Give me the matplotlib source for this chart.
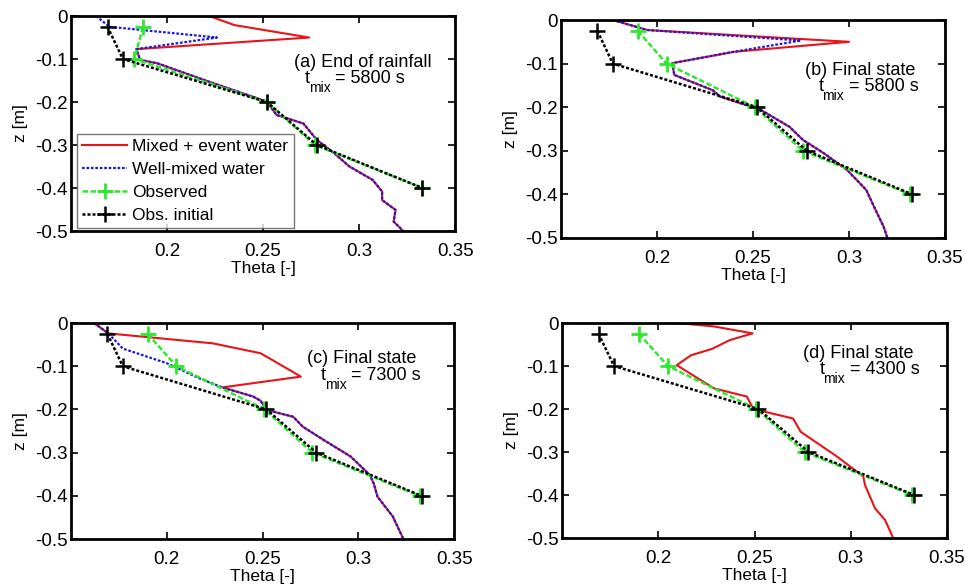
import numpy as np
import matplotlib
matplotlib.use('Agg')
import matplotlib.pyplot as plt

plt.rcParams['font.family'] = ['Liberation Sans', 'DejaVu Sans']
plt.rcParams['axes.unicode_minus'] = False

# Observed profiles (depths of the probes)
z_obs = [-0.025, -0.1, -0.2, -0.3, -0.4]
theta_obs_init = [0.169, 0.177, 0.252, 0.278, 0.333]
theta_obs_rain = [0.1875, 0.183, 0.252, 0.277, 0.333]
theta_obs_final = [0.190, 0.205, 0.251, 0.276, 0.332]

# (a) End of rainfall
z_red_a = [0, -0.021, -0.05, -0.077, -0.102, -0.110, -0.153, -0.199, -0.230, -0.250,
           -0.288, -0.319, -0.350, -0.381, -0.408, -0.428, -0.451, -0.478, -0.5]
th_red_a = [0.222, 0.235, 0.274, 0.184, 0.186, 0.195, 0.222, 0.252, 0.257, 0.271,
            0.278, 0.287, 0.295, 0.307, 0.312, 0.312, 0.319, 0.318, 0.323]
z_blue_a = [0, -0.025, -0.05, -0.077, -0.102, -0.110, -0.153, -0.199, -0.230, -0.250,
            -0.288, -0.319, -0.350, -0.381, -0.408, -0.428, -0.451, -0.478, -0.5]
th_blue_a = [0.163, 0.170, 0.226, 0.184, 0.186, 0.195, 0.222, 0.252, 0.257, 0.271,
             0.278, 0.287, 0.295, 0.307, 0.312, 0.312, 0.319, 0.318, 0.323]

# (b) Final state, t_mix = 5800 s
z_red_b = [0, -0.023, -0.05, -0.073, -0.099, -0.126, -0.161, -0.176, -0.206, -0.245,
           -0.275, -0.306, -0.344, -0.390, -0.428, -0.474, -0.5]
th_red_b = [0.177, 0.195, 0.300, 0.240, 0.208, 0.209, 0.229, 0.233, 0.254, 0.269,
            0.276, 0.287, 0.299, 0.309, 0.313, 0.318, 0.320]
z_blue_b = [0, -0.023, -0.047, -0.073, -0.099, -0.126, -0.161, -0.176, -0.206, -0.245,
            -0.275, -0.306, -0.344, -0.390, -0.428, -0.474, -0.5]
th_blue_b = [0.177, 0.195, 0.275, 0.240, 0.208, 0.209, 0.229, 0.233, 0.254, 0.269,
             0.276, 0.287, 0.299, 0.309, 0.313, 0.318, 0.320]

# (c) Final state, t_mix = 7300 s
z_red_c = [0, -0.024, -0.047, -0.070, -0.124, -0.149, -0.170, -0.180, -0.201, -0.217,
           -0.240, -0.271, -0.309, -0.352, -0.371, -0.402, -0.448, -0.5]
th_red_c = [0.162, 0.1695, 0.224, 0.249, 0.270, 0.229, 0.245, 0.249, 0.252, 0.266,
            0.271, 0.282, 0.296, 0.306, 0.308, 0.310, 0.318, 0.3235]
z_blue_c = [0, -0.024, -0.059, -0.093, -0.128, -0.149, -0.170, -0.180, -0.201, -0.217,
            -0.240, -0.271, -0.309, -0.352, -0.371, -0.402, -0.448, -0.5]
th_blue_c = [0.162, 0.1695, 0.177, 0.200, 0.217, 0.229, 0.245, 0.249, 0.252, 0.266,
             0.271, 0.282, 0.296, 0.306, 0.308, 0.310, 0.318, 0.3235]

# (d) Final state, t_mix = 4300 s
z_red_d = [0, -0.008, -0.024, -0.040, -0.060, -0.075, -0.098, -0.152, -0.171, -0.200,
           -0.222, -0.253, -0.311, -0.357, -0.377, -0.431, -0.458, -0.5]
th_red_d = [0.210, 0.229, 0.249, 0.237, 0.228, 0.217, 0.2096, 0.229, 0.246, 0.2494,
            0.270, 0.274, 0.293, 0.3065, 0.3074, 0.3126, 0.3178, 0.322]

line1 = ['(a) End of rainfall', '(b) Final state', '(c) Final state', '(d) Final state']
tmix = [5800, 5800, 7300, 4300]

positions = [[0.0736, 0.6051, 0.398, 0.3675],
             [0.5813, 0.5932, 0.398, 0.3726],
             [0.0736, 0.0786, 0.397, 0.3692],
             [0.5824, 0.0803, 0.399, 0.3675]]
text_pos = [(0.940, 0.764, 0.870, 0.690),
            (0.922, 0.748, 0.932, 0.676),
            (0.901, 0.813, 0.913, 0.736),
            (0.912, 0.836, 0.928, 0.763)]

reds = [(th_red_a, z_red_a), (th_red_b, z_red_b), (th_red_c, z_red_c), (th_red_d, z_red_d)]
blues = [(th_blue_a, z_blue_a), (th_blue_b, z_blue_b), (th_blue_c, z_blue_c), None]
obs = [theta_obs_rain, theta_obs_final, theta_obs_final, theta_obs_final]

fs = 12.5
fs_tick = 13.5
fs_note = 13
fig = plt.figure(figsize=(9.65, 5.85), dpi=100)

for i in range(4):
    ax = fig.add_axes(positions[i])
    ax.plot(reds[i][0], reds[i][1], color='#e8141a', lw=1.5, label='Mixed + event water')
    if blues[i] is not None:
        ax.plot(blues[i][0], blues[i][1], color='#1a1adc', lw=1.6, ls=(0, (1.2, 0.8)),
                label='Well-mixed water')
    ax.plot(obs[i], z_obs, color='#2ee82e', lw=1.8, ls=(0, (2.2, 1.0)), marker='+',
            ms=11, mew=2, label='Observed')
    ax.plot(theta_obs_init, z_obs, color='black', lw=1.8, ls=(0, (1.2, 0.8)), marker='+',
            ms=11, mew=1.8, label='Obs. initial')

    ax.set_xlim(0.15, 0.35)
    ax.set_ylim(-0.5, 0)
    ax.set_xticks([0.2, 0.25, 0.3, 0.35])
    ax.set_xticklabels(['0.2', '0.25', '0.3', '0.35'])
    ax.set_yticks([0, -0.1, -0.2, -0.3, -0.4, -0.5])
    ax.set_yticklabels(['0', '-0.1', '-0.2', '-0.3', '-0.4', '-0.5'])
    ax.tick_params(direction='in', top=True, right=True, length=5, width=1.2,
                   labelsize=fs_tick)
    ax.tick_params(axis='x', pad=8.5)
    ax.tick_params(axis='y', pad=2.5)
    for sp in ax.spines.values():
        sp.set_linewidth(2)
    ax.set_xlabel('Theta [-]', fontsize=fs, labelpad=1)
    ax.set_ylabel('z [m]', fontsize=fs, labelpad=5)

    # panel note, t with a lowered "mix" subscript
    x1, y1, x2, y2 = text_pos[i]
    ax.text(x1, y1, line1[i], transform=ax.transAxes, ha='right', va='baseline',
            fontsize=fs_note)
    main = ax.text(x2, y2, '= %d s' % tmix[i], transform=ax.transAxes, ha='right',
                   va='baseline', fontsize=fs_note)
    sub = ax.annotate('mix', xy=(0, 0), xycoords=main, xytext=(-3.5, -6),
                      textcoords='offset points', ha='right', va='bottom', fontsize=10)
    ax.annotate('t', xy=(0, 0), xycoords=sub, xytext=(1, 6),
                textcoords='offset points', ha='right', va='bottom', fontsize=fs_note)

    if i == 0:
        leg = ax.legend(loc='lower left', bbox_to_anchor=(0.015, 0.012), fontsize=fs,
                        frameon=True, fancybox=False, edgecolor='#555555',
                        borderpad=0.3, labelspacing=0.45, handlelength=2.6,
                        handletextpad=0.3, borderaxespad=0)
        leg.get_frame().set_linewidth(1.0)

fig.savefig('out.png', dpi=100)
